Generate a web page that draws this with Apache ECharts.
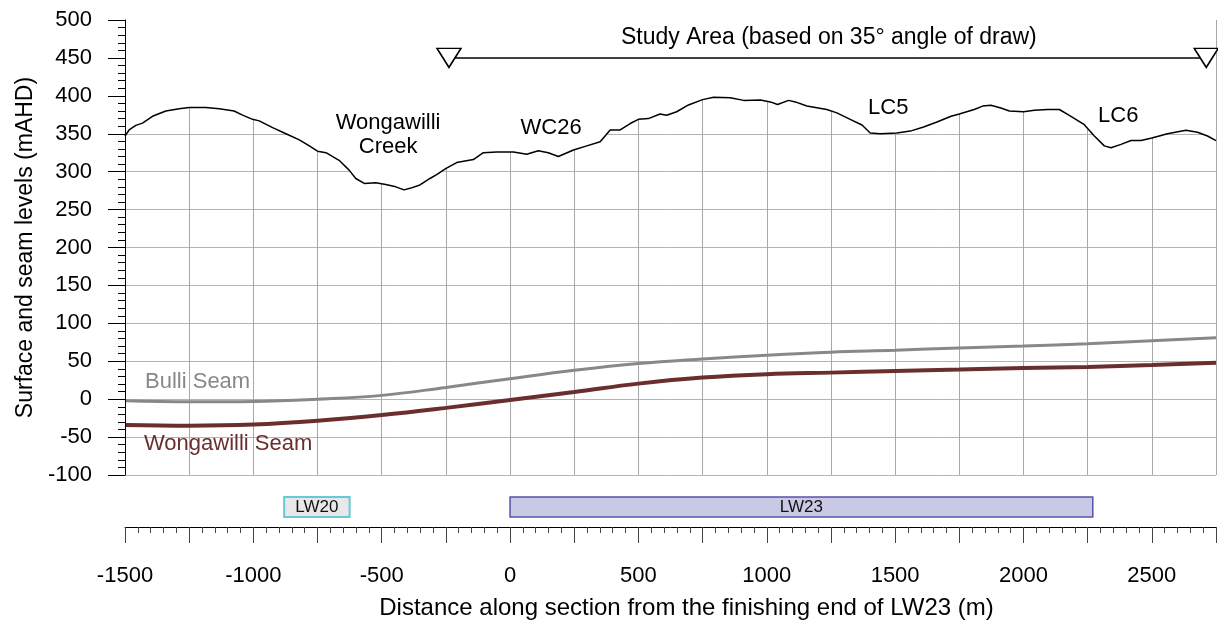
<!DOCTYPE html>
<html>
<head>
<meta charset="utf-8">
<script src="https://cdn.jsdelivr.net/npm/echarts@6/dist/echarts.min.js"></script>
<style>
  html, body { margin: 0; padding: 0; background: #fff; }
  #chart { width: 1218px; height: 627px; }
</style>
</head>
<body>
<div id="chart"></div>
<script>
// Ground surface profile along the section (distance m, level mAHD)
const surfaceX = [-1500, -1484, -1458, -1432, -1393, -1341, -1289, -1250, -1185, -1133, -1075, -1042, -1003, -977, -925, -873, -821, -782, -750, -717, -666, -627, -601, -568, -523, -484, -445, -413, -390, -351, -312, -286, -251, -208, -143, -104, -52, 13, 65, 110, 149, 188, 247, 299, 351, 390, 429, 468, 500, 539, 584, 610, 649, 695, 750, 793, 858, 910, 975, 1014, 1042, 1085, 1111, 1156, 1234, 1273, 1325, 1371, 1403, 1442, 1507, 1559, 1611, 1663, 1718, 1750, 1808, 1841, 1873, 1912, 1945, 2000, 2043, 2094, 2140, 2185, 2237, 2276, 2315, 2341, 2380, 2419, 2458, 2500, 2561, 2633, 2678, 2717, 2750];
const surfaceZ = [347, 355, 361, 364, 373, 380, 383, 384.5, 384.5, 383, 380, 374.5, 369, 367, 358, 350, 342, 334, 327, 325, 315, 302, 291, 284.5, 285.5, 283, 280, 276, 278, 282.5, 291, 296, 304, 312, 316, 325, 326, 326, 323, 327.5, 325, 320, 328.5, 334, 339.5, 355, 355, 363.5, 369, 370, 376, 374.5, 379, 388, 395, 398, 397.5, 394, 394.5, 392, 388.5, 394, 392, 386.5, 382, 377.5, 369, 361.5, 351, 350, 351, 353.5, 359, 365.5, 373, 376, 382, 386.5, 387.5, 384, 380, 379, 381, 382, 382, 373, 362, 347, 334, 331.5, 336, 341, 341, 344.5, 350, 354.5, 352, 347, 341];

// Seam floor levels
const seamX = [-1500, -1250, -1000, -750, -500, -250, 0, 250, 500, 750, 1000, 1250, 1500, 1750, 2000, 2250, 2500, 2750];
const bulliZ = [-2, -3.5, -3, 0, 5, 15.5, 27, 38, 47, 53, 58, 62, 64.5, 67.5, 70, 73, 77, 81];
const wongawilliZ = [-34, -35, -33.5, -28.5, -21, -11.5, -1, 9.5, 20.5, 28.5, 33, 35, 37, 39, 41, 42.5, 45, 48];

// Longwall panels crossed by the section
const panelNames = ['LW20', 'LW23'];
const panelStart = [-880, 0];
const panelEnd = [-625, 2270];

// Study area limits (35 degree angle of draw) and its level
const studyAreaX = [-238, 2712];
const studyAreaLevel = 450;

// Feature labels
const featureNames = ['Wongawilli\nCreek', 'WC26', 'LC5', 'LC6'];
const featureX = [-475, 160, 1473, 2369];
const featureZ = [348, 358, 384, 373];

// Axis ranges
const xMin = -1500, xMax = 2750, xStep = 250, xLabelStep = 500;
const yMin = -100, yMax = 500, yStep = 50;

const FONT = '"Liberation Sans", Arial, Helvetica, sans-serif';

const panelStyle = {
  LW20: { fill: '#e8e8e8', stroke: '#66c9d6', lineWidth: 2 },
  LW23: { fill: '#c9c9e6', stroke: '#5454a8', lineWidth: 1.5 }
};

const zip = (xs, ys) => xs.map((x, i) => [x, ys[i]]);

const chart = echarts.init(document.getElementById('chart'), null, { renderer: 'canvas' });

// plain text labels anchored at a data point (no halo)
const plainLabel = {
  show: true, position: 'inside', formatter: p => p.name,
  fontSize: 22, fontFamily: FONT, color: '#000',
  textBorderWidth: 0, textBorderColor: 'transparent', textShadowBlur: 0
};

const option = {
  animation: false,
  backgroundColor: '#fff',
  textStyle: { fontFamily: FONT },
  grid: [
    { left: 125, right: 2, top: 20, height: 455, containLabel: false, outerBoundsMode: 'none' },
    { left: 125, right: 2, top: 497, height: 30, containLabel: false, outerBoundsMode: 'none' }
  ],
  xAxis: [
    {
      gridIndex: 0, type: 'value', min: xMin, max: xMax, interval: xStep,
      axisLine: { show: false }, axisTick: { show: false }, axisLabel: { show: false },
      splitLine: { show: true, lineStyle: { color: '#a8a8a8', width: 1 } }
    },
    {
      gridIndex: 1, type: 'value', position: 'bottom', min: xMin, max: xMax, interval: xStep,
      axisLine: { show: true, lineStyle: { color: '#000', width: 1 } },
      axisTick: { show: true, length: 16, lineStyle: { color: '#444', width: 1 } },
      minorTick: { show: true, splitNumber: 5, length: 6, lineStyle: { color: '#444', width: 1 } },
      splitLine: { show: false },
      axisLabel: {
        margin: 38, fontSize: 22, color: '#000', fontFamily: FONT,
        formatter: v => (v % xLabelStep === 0 ? String(v) : '')
      },
      name: 'Distance along section from the finishing end of LW23 (m)',
      nameLocation: 'middle', nameGap: 69,
      nameTextStyle: { fontSize: 24, color: '#000', fontFamily: FONT, padding: [0, 0, 0, 32] }
    }
  ],
  yAxis: [
    {
      gridIndex: 0, type: 'value', position: 'left', min: yMin, max: yMax, interval: yStep,
      axisLine: { show: false }, axisTick: { show: false }, axisLabel: { show: false },
      splitLine: { show: true, lineStyle: { color: '#b4b4b4', width: 1 } }
    },
    {
      gridIndex: 0, type: 'value', position: 'left', offset: 0, min: yMin, max: yMax, interval: yStep, z: 6,
      axisLine: { show: true, onZero: false, lineStyle: { color: '#000', width: 1 } },
      axisTick: { show: true, length: 17, lineStyle: { color: '#000', width: 1 } },
      minorTick: { show: true, splitNumber: 5, length: 7, lineStyle: { color: '#000', width: 1 } },
      splitLine: { show: false },
      axisLabel: { margin: 33, fontSize: 22, color: '#000', fontFamily: FONT, formatter: v => String(v) },
      name: 'Surface and seam levels (mAHD)',
      nameLocation: 'middle', nameGap: 86,
      nameTextStyle: { fontSize: 23, color: '#000', fontFamily: FONT }
    },
    {
      gridIndex: 1, type: 'value', min: 0, max: 3, show: false
    }
  ],
  series: [
    {
      name: 'Bulli Seam', type: 'line', xAxisIndex: 0, yAxisIndex: 0, z: 2,
      data: zip(seamX, bulliZ), smooth: 0.4, showSymbol: false,
      lineStyle: { color: '#888888', width: 3 }
    },
    {
      name: 'Wongawilli Seam', type: 'line', xAxisIndex: 0, yAxisIndex: 0, z: 2,
      data: zip(seamX, wongawilliZ), smooth: 0.4, showSymbol: false,
      lineStyle: { color: '#6b2e2e', width: 4 }
    },
    {
      // surface line; the sky above it is painted white
      name: 'Surface', type: 'line', xAxisIndex: 0, yAxisIndex: 0, z: 3,
      data: zip(surfaceX, surfaceZ), showSymbol: false,
      lineStyle: { color: '#000', width: 1.5 },
      areaStyle: { color: '#fff', opacity: 1, origin: 'end' }
    },
    {
      name: 'Study Area', type: 'line', xAxisIndex: 0, yAxisIndex: 0, z: 4,
      data: studyAreaX.map(x => [x, studyAreaLevel]),
      symbol: 'triangle', symbolRotate: 180, symbolSize: [24, 19], showSymbol: true,
      itemStyle: { color: '#fff', borderColor: '#000', borderWidth: 1.5 },
      lineStyle: { color: '#000', width: 1.5 },
      label: { show: false }
    },
    {
      name: 'Features', type: 'scatter', xAxisIndex: 0, yAxisIndex: 0, z: 5,
      symbolSize: 0, itemStyle: { color: 'transparent', opacity: 1 },
      data: featureNames.map((n, i) => ({ value: [featureX[i], featureZ[i]], name: n })),
      label: Object.assign({}, plainLabel, { lineHeight: 24, align: 'center' })
    },
    {
      name: 'Titles', type: 'scatter', xAxisIndex: 0, yAxisIndex: 0, z: 5,
      symbolSize: 0, itemStyle: { color: 'transparent', opacity: 1 },
      data: [
        { value: [(studyAreaX[0] + studyAreaX[1]) / 2 + 5, 477], name: 'Study Area (based on 35° angle of draw)',
          label: { color: '#000', align: 'center', fontSize: 23 } },
        { value: [-1422, 22.5], name: 'Bulli Seam', label: { color: '#888888', align: 'left' } },
        { value: [-1426, -59], name: 'Wongawilli Seam', label: { color: '#6b2e2e', align: 'left' } }
      ],
      label: plainLabel
    },
    {
      name: 'Panels', type: 'custom', xAxisIndex: 1, yAxisIndex: 2, z: 3,
      data: panelNames.map((n, i) => [panelStart[i], panelEnd[i], n]),
      renderItem: (params, api) => {
        const name = panelNames[params.dataIndex];
        const p0 = api.coord([api.value(0), 3]);
        const p1 = api.coord([api.value(1), 1]);
        const st = panelStyle[name];
        return {
          type: 'group',
          children: [
            {
              type: 'rect',
              shape: { x: p0[0], y: p0[1], width: p1[0] - p0[0], height: p1[1] - p0[1] },
              style: { fill: st.fill, stroke: st.stroke, lineWidth: st.lineWidth }
            },
            {
              type: 'text',
              style: {
                text: name, x: (p0[0] + p1[0]) / 2, y: (p0[1] + p1[1]) / 2,
                align: 'center', verticalAlign: 'middle',
                fontSize: 17, fontFamily: FONT, fill: '#111'
              }
            }
          ]
        };
      }
    }
  ]
};

chart.setOption(option);
</script>
</body>
</html>
